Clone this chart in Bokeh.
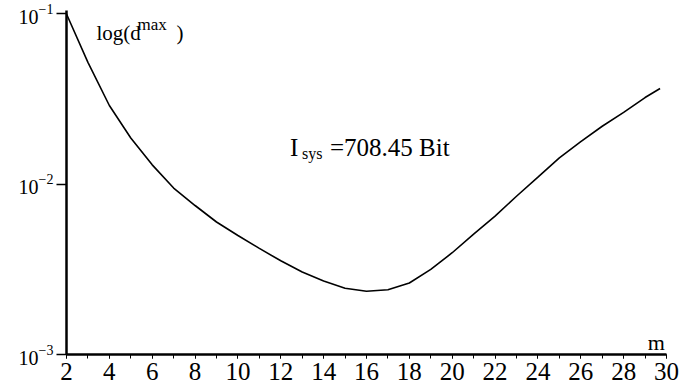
from bokeh.plotting import figure
from bokeh.models import FixedTicker, Label, LogTickFormatter, Range1d
from bokeh.embed import file_html
from bokeh.resources import INLINE

# data
m_values = [2, 3, 4, 5, 6, 7, 8, 9, 10, 11, 12, 13, 14, 15, 16, 17, 18, 19, 20,
            21, 22, 23, 24, 25, 26, 27, 28, 29, 29.7]
d_max = [0.1, 0.052, 0.029, 0.0187, 0.013, 0.0095, 0.0075, 0.006, 0.005, 0.0042,
         0.00355, 0.00305, 0.0027, 0.00245, 0.00235, 0.0024, 0.00263, 0.00316,
         0.00396, 0.0051, 0.0065, 0.0085, 0.011, 0.0143, 0.0178, 0.0219, 0.0264,
         0.0323, 0.0365]
x_ticks = [2, 4, 6, 8, 10, 12, 14, 16, 18, 20, 22, 24, 26, 28, 30]
x_minor = list(range(2, 31))
y_ticks = [0.001, 0.01, 0.1]

FONT = "Liberation Serif"

p = figure(width=679, height=390, y_axis_type="log",
           x_range=Range1d(2, 30), y_range=Range1d(0.001, 0.1048),
           output_backend="svg", toolbar_location=None,
           min_border_left=66, min_border_right=13, min_border_top=10,
           min_border_bottom=36)
p.outline_line_color = None
p.grid.visible = False
p.background_fill_color = "white"
p.border_fill_color = "white"

p.line(m_values, d_max, line_color="black", line_width=1.6)

xa = p.xaxis[0]
xa.ticker = FixedTicker(ticks=x_ticks, minor_ticks=x_minor)
xa.axis_line_width = 2.5
xa.axis_line_color = "black"
xa.major_tick_in = 0
xa.major_tick_out = 4
xa.minor_tick_in = 0
xa.minor_tick_out = 4
xa.major_tick_line_color = "black"
xa.minor_tick_line_color = "black"
xa.major_label_text_font = FONT
xa.major_label_text_font_size = "25px"
xa.major_label_text_color = "black"
xa.major_label_standoff = 4

ya = p.yaxis[0]
ya.ticker = FixedTicker(ticks=y_ticks, minor_ticks=[])
ya.formatter = LogTickFormatter()
ya.axis_line_width = 2.5
ya.axis_line_color = "black"
ya.major_tick_in = 0
ya.major_tick_out = 10
ya.major_tick_line_width = 1.5
ya.major_tick_line_color = "black"
ya.minor_tick_out = 0
ya.minor_tick_in = 0
ya.major_label_text_font = FONT
ya.major_label_text_font_size = "20px"
ya.major_label_text_color = "black"
ya.major_label_standoff = 3


def lab(x, y, text, size, xo=0, yo=0, align="left"):
    p.add_layout(Label(x=x, y=y, text=text, x_offset=xo, y_offset=yo,
                       text_font=FONT, text_font_size=size, text_color="black",
                       text_baseline="alphabetic", text_align=align))


# axis title log(d^max)
lab(3.40, 0.0768, "log(d", "21px")
lab(3.40, 0.0768, "max", "17px", xo=41, yo=9)
lab(3.40, 0.0768, ")", "21px", xo=80)

# annotation I_sys = 708.45 Bit
lab(12.43, 0.01644, "I", "25px")
lab(12.43, 0.01644, "sys", "16px", xo=12, yo=-6)
lab(12.43, 0.01644, "=708.45 Bit", "25px", xo=40)

# x-axis title
lab(29.13, 0.001176, "m", "22px")

open("out.html", "w").write(file_html(p, INLINE))
